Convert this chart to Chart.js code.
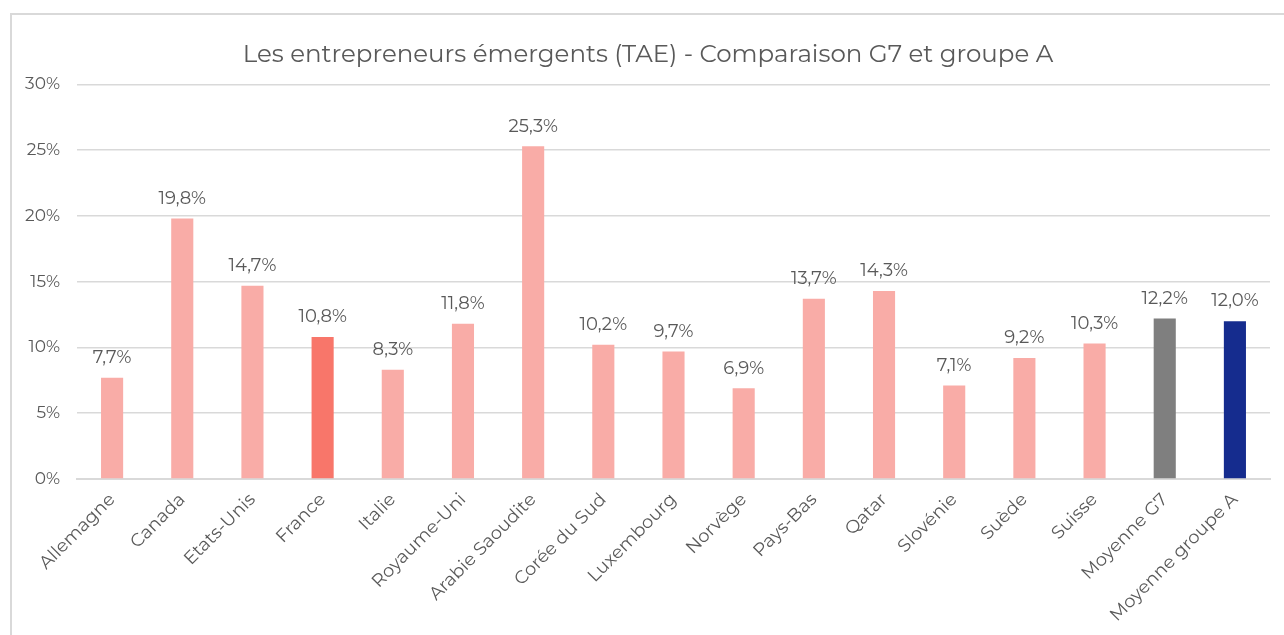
<!DOCTYPE html>
<html>
<head>
<meta charset="utf-8">
<script src="https://cdn.jsdelivr.net/npm/chart.js@4"></script>
<style>
    html, body { margin: 0; padding: 0; background: #fff; overflow: hidden; }
    #frame {
        position: absolute;
        left: 10px; top: 13px;
        width: 1300px; height: 640px;
        border: 2px solid #d9d9d9;
        box-sizing: border-box;
    }
    #wrap { position: absolute; left: 0; top: 0; width: 1284px; height: 635px; }
</style>
</head>
<body>
<div id="frame"></div>
<div id="wrap"><canvas id="chart"></canvas></div>
<script>
const categories = ["Allemagne", "Canada", "Etats-Unis", "France", "Italie", "Royaume-Uni",
    "Arabie Saoudite", "Corée du Sud", "Luxembourg", "Norvège", "Pays-Bas", "Qatar",
    "Slovénie", "Suède", "Suisse", "Moyenne G7", "Moyenne groupe A"];
const values = [7.7, 19.8, 14.7, 10.8, 8.3, 11.8, 25.3, 10.2, 9.7, 6.9, 13.7, 14.3, 7.1, 9.2, 10.3, 12.2, 12.0];
const yTicks = [0, 5, 10, 15, 20, 25, 30];
const titleText = "Les entrepreneurs émergents (TAE) - Comparaison G7 et groupe A";

const barColors = categories.map(c => {
    if (c === "France") return "#f8766a";
    if (c === "Moyenne G7") return "#7f7f7f";
    if (c === "Moyenne groupe A") return "#152c8e";
    return "#f9aca7";
});

const FONT = "Montserrat, 'Open Sans', sans-serif";
const TEXT = "#595959";

// draws the value above each bar
const valueLabels = {
    id: "valueLabels",
    afterDatasetsDraw(chart) {
        const ctx = chart.ctx;
        const meta = chart.getDatasetMeta(0);
        ctx.save();
        ctx.font = "18px " + FONT;
        ctx.fillStyle = TEXT;
        ctx.textAlign = "center";
        ctx.textBaseline = "middle";
        meta.data.forEach((bar, i) => {
            const p = bar.getProps(["x", "y"], true);
            ctx.fillText(values[i].toFixed(1).replace(".", ",") + "%", p.x, p.y - 20);
        });
        ctx.restore();
    }
};

new Chart(document.getElementById("chart"), {
    type: "bar",
    data: {
        labels: categories,
        datasets: [{
            data: values,
            backgroundColor: barColors,
            barPercentage: 0.5,
            categoryPercentage: 0.63
        }]
    },
    options: {
        responsive: true,
        maintainAspectRatio: false,
        animation: false,
        layout: { padding: { left: 12, right: 0, top: 0, bottom: 0 } },
        plugins: {
            legend: { display: false },
            tooltip: { enabled: false },
            title: {
                display: true,
                text: titleText,
                color: TEXT,
                font: { family: FONT, size: 24.5, weight: "normal" },
                padding: { top: 40, bottom: 15 }
            }
        },
        scales: {
            x: {
                grid: { display: false },
                border: { color: "#d9d9d9", width: 2 },
                ticks: {
                    color: TEXT,
                    font: { family: FONT, size: 18 },
                    minRotation: 45,
                    maxRotation: 45,
                    autoSkip: false,
                    padding: 2
                },
                afterFit(scale) { scale.height = 156; }
            },
            y: {
                min: 0,
                max: 30,
                afterBuildTicks(scale) { scale.ticks = yTicks.map(v => ({ value: v })); },
                grid: { color: "#d9d9d9", lineWidth: 1.5, drawTicks: false },
                border: { display: false },
                ticks: {
                    color: TEXT,
                    font: { family: FONT, size: 17 },
                    padding: 17,
                    callback: v => v + "%"
                },
                afterFit(scale) { scale.width = 65; }
            },
            // empty right margin so the plot ends before the frame edge
            spacer: {
                position: "right",
                min: 0,
                max: 30,
                grid: { display: false },
                border: { display: false },
                ticks: { display: false },
                afterFit(scale) { scale.width = 14; }
            }
        }
    },
    plugins: [valueLabels]
});
</script>
</body>
</html>
